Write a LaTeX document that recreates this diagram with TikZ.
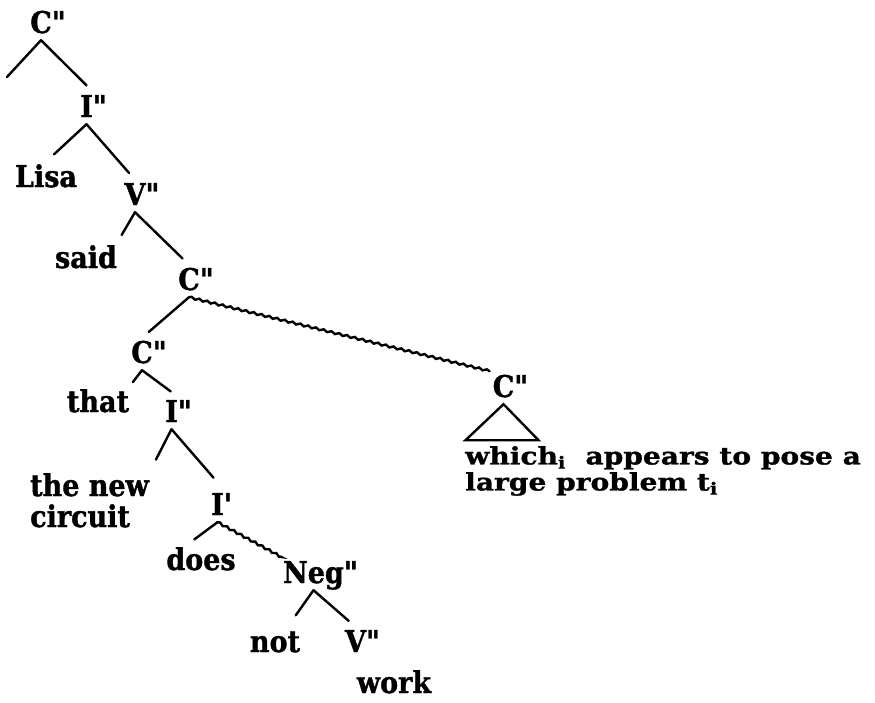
\documentclass[tikz,border=0pt]{standalone}
\usepackage{fontspec}
\usetikzlibrary{calc,decorations.pathmorphing}
\newfontfamily\treefont{DejaVuSerifCondensed-Bold.ttf}[FakeBold=1.2]
\newfontfamily\relfont{DejaVu Serif}[FakeStretch=1.17, FakeBold=1.2]
% bar marks that do not move the label centre
\newcommand{\twobar}{\rlap{\textquotedbl}}
\newcommand{\onebar}{\rlap{\textquotesingle}}
\tikzset{
    % Category labels and words of the tree
    catnode/.style={
        font=\treefont\fontsize{30}{32}\selectfont,
        inner xsep=0pt,
        inner ysep=5pt,
        text height=20pt,
        text depth=2pt,
        anchor=base
    },
    % Phrase set on two lines
    phrasenode/.style={
        font=\treefont\fontsize{30}{31}\selectfont,
        inner sep=0pt,
        align=left,
        anchor=north west
    },
    % Text under the triangle
    reltext/.style={
        font=\relfont\bfseries\fontsize{24}{26}\selectfont,
        inner sep=0pt,
        align=left,
        anchor=north west
    },
    % Branches
    branch/.style={
        line width=2.4pt,
        draw=black,
        shorten >=9pt,
        line cap=round
    },
    % Rough branch
    wavybranch/.style={
        branch,
        decorate,
        decoration={snake, amplitude=1pt, segment length=8pt}
    }
}
\begin{document}
\begin{tikzpicture}[x=1pt, y=-1pt]
    \useasboundingbox (0,0) rectangle (875,702);

    % Main clause
    \node[catnode] (cp1) at (41,33) {C\twobar};
    \coordinate (cp1left) at (7,77);
    \node[catnode] (ip1) at (86.5,117) {I\twobar};
    \node[catnode] (lisa) at (46,187) {Lisa};
    \node[catnode] (vp1) at (135,205) {V\twobar};
    \node[catnode] (said) at (86,268) {said};
    \node[catnode] (cp2) at (189,290) {C\twobar};

    % Embedded clause
    \node[catnode] (cp3) at (142,363) {C\twobar};
    \node[catnode] (that) at (98,412) {that};
    \node[catnode] (ip2) at (171.5,422) {I\twobar};
    \node[phrasenode] (np) at (30,473) {the new\\circuit};
    \node[catnode] (ibar) at (217.5,515) {I\onebar};
    \node[catnode] (does) at (201,570) {does};
    \node[catnode] (negp) at (313.5,583) {Neg\twobar};
    \node[catnode] (neg) at (275,652) {not};
    \node[catnode] (vp2) at (355.5,652) {V\twobar};
    \node[catnode] (work) at (394,693) {work};

    % Relative clause
    \node[catnode] (cp4) at (503.5,397) {C\twobar};
    \node[reltext] (rel) at (465,446) {which\textsubscript{i}\ \ appears to pose a\\large problem t\textsubscript{i}};

    % Branches
    \draw[branch, shorten >=0pt] (cp1.south) -- (cp1left);
    \draw[branch] (cp1.south) -- (ip1.north east);
    \draw[branch, shorten >=11pt] (ip1.south) -- (lisa.north);
    \draw[branch] (ip1.south) -- (vp1.north);
    \draw[branch] (vp1.south) -- (said.north east);
    \draw[branch] (vp1.south) -- (cp2.north);
    \draw[branch] (cp2.south) -- (cp3.north);
    \draw[wavybranch, shorten >=3pt] (cp2.south) -- (cp4.north west);
    \draw[branch, shorten >=6pt] (cp3.south) -- (that.north east);
    \draw[branch] (cp3.south) -- (ip2.north east);
    \draw[branch, shorten >=15pt] (ip2.south) -- (np.north east);
    \draw[branch, shorten >=16pt] (ip2.south) -- (ibar.north east);
    \draw[branch] (ibar.south) -- ($(does.north west)!0.6!(does.north)$);
    \draw[wavybranch, shorten >=3pt] (ibar.south) -- (negp.north west);
    \draw[branch, shorten >=14pt] (negp.south) -- ($(neg.north)!0.5!(neg.north east)$);
    \draw[branch] (negp.south) -- (vp2.north);

    % Triangle over the relative clause
    \draw[branch, shorten >=0pt, line join=miter] (cp4.south) -- ++(-38,36) -- ++(73,0) -- cycle;
\end{tikzpicture}
\end{document}
